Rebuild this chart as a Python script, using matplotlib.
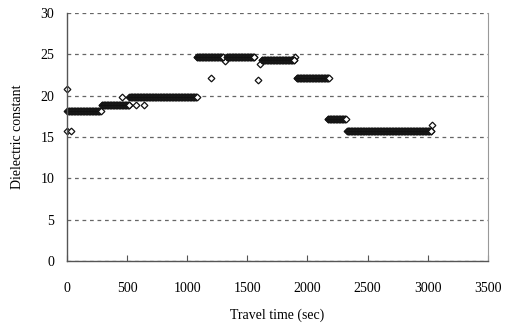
import numpy as np
import matplotlib
matplotlib.use("Agg")
import matplotlib.pyplot as plt

plt.rcParams['font.family'] = ['Liberation Serif', 'DejaVu Serif']

# plateaus: start (sec), end (sec), dielectric constant
seg_start = [10, 290, 520, 1080, 1330, 1620, 1910, 2170, 2330]
seg_end = [280, 520, 1080, 1300, 1560, 1890, 2180, 2320, 3030]
seg_value = [18.2, 18.9, 19.9, 24.7, 24.7, 24.3, 22.1, 17.2, 15.7]
sample_step = 5  # logging interval of the probe (sec)

# isolated readings
odd_t = [0, 0, 0, 30, 460, 575, 640, 1200, 1315, 1590, 1605, 1900, 3040]
odd_v = [15.7, 18.2, 20.8, 15.7, 19.9, 18.9, 18.9, 22.2, 24.2, 21.9, 23.9, 24.7, 16.5]

t = list(odd_t)
v = list(odd_v)
for s, e, val in zip(seg_start, seg_end, seg_value):
    ts = np.arange(s, e + 1, sample_step)
    t += list(ts)
    v += [val] * len(ts)

fig = plt.figure(figsize=(5.07, 3.28), dpi=100)
ax = fig.add_axes([0.132, 0.204, 0.830, 0.756])

ax.plot(t, v, linestyle='none', marker='D', markersize=3.4, clip_on=False,
        markerfacecolor='white', markeredgecolor='#111111', markeredgewidth=0.9)

ax.set_xlim(0, 3500)
ax.set_ylim(0, 30)
ax.set_xticks(range(0, 3501, 500))
ax.set_yticks(range(0, 31, 5))
ax.grid(True, axis='y', linestyle=(0, (3, 3)), color='#666666', linewidth=0.9)
ax.set_axisbelow(True)

ax.spines['top'].set_visible(False)
ax.spines['right'].set_color('#999999')
ax.spines['left'].set_color('#555555')
ax.spines['bottom'].set_color('#555555')
ax.spines['left'].set_linewidth(1.0)
ax.spines['bottom'].set_linewidth(1.0)

ax.tick_params(axis='x', direction='in', length=4, color='#555555', pad=15, labelsize=10)
ax.tick_params(axis='y', length=0, pad=9, labelsize=10)

ax.set_xlabel('Travel time (sec)', fontsize=10, labelpad=10)
ax.set_ylabel('Dielectric constant', fontsize=10, labelpad=12)

fig.savefig('out.png', dpi=100)
